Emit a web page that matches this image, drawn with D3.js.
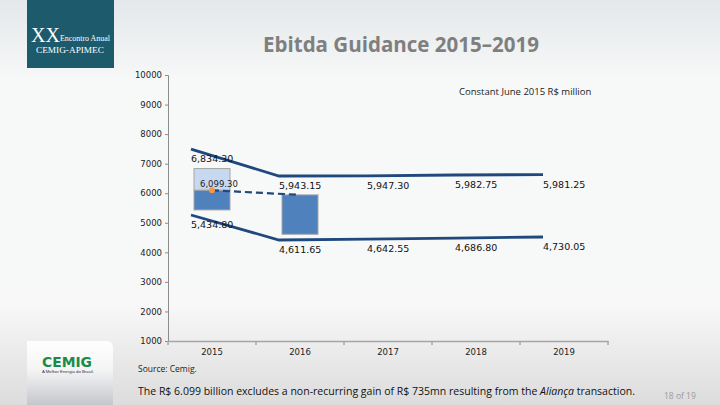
<!DOCTYPE html>
<html><head><meta charset="utf-8">
<script src="https://cdn.jsdelivr.net/npm/d3@7"></script>
<style>html,body{margin:0;padding:0;overflow:hidden;}svg{display:block;}</style>
</head><body>
<script>
// ---- data ----
const years = ["2015","2016","2017","2018","2019"];
const upperLine = [7495, 6582, 6585, 6616, 6630];          // drawn position of upper guidance line
const lowerLine = [5263, 4417, 4450, 4484, 4518];          // drawn position of lower guidance line
const upperLabels = ["6,834.30","5,943.15","5,947.30","5,982.75","5,981.25"];
const lowerLabels = ["5,434.80","4,611.65","4,642.55","4,686.80","4,730.05"];
const box2015 = {low: 5434.8, mid: 6099.3, high: 6834.3};
const box2016 = {low: 4611.65, high: 5943.15};
const midLabel = "6,099.30";
const dashedLine = [{year:"2015", v:6099.3},{year:"2016", v:5943.15}];
const yTicks = [1000,2000,3000,4000,5000,6000,7000,8000,9000,10000];

const W=720,H=405;
const svg=d3.select("body").append("svg").attr("width",W).attr("height",H);
const defs=svg.append("defs");
const bg=defs.append("linearGradient").attr("id","bg").attr("x1",0).attr("y1",0).attr("x2",0).attr("y2",1);
bg.append("stop").attr("offset","0").attr("stop-color","#e4e8ea");
bg.append("stop").attr("offset","0.2").attr("stop-color","#f7f8f8");
bg.append("stop").attr("offset","0.75").attr("stop-color","#f8f8f8");
bg.append("stop").attr("offset","1").attr("stop-color","#dcdcdc");
svg.append("rect").attr("width",W).attr("height",H).attr("fill","url(#bg)");

const lg=defs.append("linearGradient").attr("id","lg").attr("x1",0).attr("y1",0).attr("x2",0).attr("y2",1);
lg.append("stop").attr("offset","0").attr("stop-color","#ffffff");
lg.append("stop").attr("offset","0.45").attr("stop-color","#f4f4f5");
lg.append("stop").attr("offset","1").attr("stop-color","#c4c7cc");

// fit helper: shrink font so text fits a width
function fit(sel,width){
  const n=sel.node(); const w=n.getComputedTextLength();
  const fs=parseFloat(sel.attr("font-size"));
  if(w>0) sel.attr("font-size",fs*width/w);
}

// top-left logo block
svg.append("rect").attr("x",27).attr("y",0).attr("width",87).attr("height",68).attr("fill","#1d5a6c");
svg.append("text").attr("x",31).attr("y",42).attr("fill","#fff").attr("font-family","Liberation Serif").attr("font-size",20).text("XX");
fit(svg.append("text").attr("x",60).attr("y",41).attr("fill","#fff").attr("font-family","Liberation Serif").attr("font-size",7).text("Encontro Anual"),50);
fit(svg.append("text").attr("x",36).attr("y",53).attr("fill","#fff").attr("font-family","Liberation Serif").attr("font-size",10).text("CEMIG-APIMEC"),68);

// bottom-left logo panel
svg.append("path").attr("d","M27,341 H106 Q113,341 113,348 V405 H27 Z").attr("fill","url(#lg)");
fit(svg.append("text").attr("x",42).attr("y",367).attr("fill","#1a8c47")
  .attr("font-family","DejaVu Sans").attr("font-weight","bold").attr("font-size",13).text("CEMIG"),50);
fit(svg.append("text").attr("x",42).attr("y",373).attr("fill","#333")
  .attr("font-family","Liberation Sans").attr("font-size",3.6).text("A Melhor Energia do Brasil."),52);

// title
fit(svg.append("text").attr("x",263).attr("y",52).attr("fill","#7f7f7f")
  .attr("font-family","Open Sans").attr("font-weight","bold").attr("font-size",20).text("Ebitda Guidance 2015–2019"),276);

// scales
const x=d3.scaleBand().domain(years).range([168,608]);
const y=d3.scaleLinear().domain([1000,10000]).range([341,75]);
const cx=d=>x(d)+x.bandwidth()/2;

// axes
const gy=svg.append("g").attr("transform","translate(168,0)")
  .call(d3.axisLeft(y).tickValues(yTicks).tickFormat(d3.format("d")).tickSizeOuter(0).tickSize(3).tickPadding(3));
gy.select(".domain").attr("stroke","#8c8c8c");
gy.selectAll(".tick line").attr("stroke","#8c8c8c");
gy.selectAll("text").attr("font-family","DejaVu Sans").attr("font-size",8.5).attr("fill","#222");

const gx=svg.append("g").attr("transform","translate(0,341)")
  .call(d3.axisBottom(x).tickSize(0).tickPadding(8));
gx.select(".domain").attr("stroke","#a6a6a6").attr("stroke-width",1.5);
gx.selectAll("text").attr("font-family","DejaVu Sans").attr("font-size",8.5).attr("fill","#222");
gx.selectAll(".bt").data(d3.range(years.length+1)).enter().append("line")
  .attr("x1",i=>x.range()[0]+i*x.step()).attr("x2",i=>x.range()[0]+i*x.step())
  .attr("y1",0).attr("y2",4).attr("stroke","#a6a6a6").attr("stroke-width",1.5);

const bw=36;
// 2015 box
svg.append("rect").attr("x",cx("2015")-bw/2).attr("y",y(box2015.high)).attr("width",bw)
  .attr("height",y(box2015.mid)-y(box2015.high)).attr("fill","#c6d9f1").attr("stroke","#a5a5a5").attr("stroke-width",1);
svg.append("rect").attr("x",cx("2015")-bw/2).attr("y",y(box2015.mid)).attr("width",bw)
  .attr("height",y(box2015.low)-y(box2015.mid)).attr("fill","#4f81bd").attr("stroke","#a5a5a5").attr("stroke-width",1);
// 2016 box
svg.append("rect").attr("x",cx("2016")-bw/2).attr("y",y(box2016.high)).attr("width",bw)
  .attr("height",y(box2016.low)-y(box2016.high)).attr("fill","#4f81bd").attr("stroke","#a5a5a5").attr("stroke-width",1);

// guidance lines
const px=(d)=>x(d)+x.bandwidth()/2-21;
const line=d3.line().x(d=>px(d.year)).y(d=>y(d.v));
[upperLine,lowerLine].forEach(arr=>{
  const pts=years.map((yr,i)=>({year:yr,v:arr[i]}));
  svg.append("path").attr("d",line(pts)).attr("fill","none").attr("stroke","#1f497d").attr("stroke-width",2.8);
});

// dashed line
svg.append("path").attr("d",d3.line().x(d=>cx(d.year)).y(d=>y(d.v))(dashedLine))
  .attr("fill","none").attr("stroke","#1f497d").attr("stroke-width",2.2).attr("stroke-dasharray","7,4");
svg.append("circle").attr("cx",cx("2015")).attr("cy",y(box2015.mid)).attr("r",3).attr("fill","#f79646");
svg.append("text").attr("x",cx("2015")-12).attr("y",y(box2015.mid)-3).attr("font-family","DejaVu Sans")
  .attr("font-size",8.5).attr("fill","#222").text(midLabel);

// labels
const lbl=(arr,vals)=>svg.append("g").selectAll("text").data(years).enter().append("text")
  .attr("x",d=>px(d)).attr("y",(d,i)=>y(vals[i])+13).attr("font-family","DejaVu Sans")
  .attr("font-size",9.5).attr("fill","#111").text((d,i)=>arr[i]);
lbl(upperLabels,upperLine);
lbl(lowerLabels,lowerLine);

// annotations
svg.append("text").attr("x",459).attr("y",95).attr("font-family","Open Sans").attr("font-size",9.5).attr("fill","#222")
  .text("Constant June 2015 R$ million");
svg.append("text").attr("x",138).attr("y",372).attr("font-family","Open Sans").attr("font-size",8.5).attr("fill","#222")
  .text("Source: Cemig.");
const fn=svg.append("text").attr("x",138).attr("y",395).attr("font-family","Open Sans").attr("font-size",11.5).attr("fill","#111");
fn.append("tspan").text("The R$ 6.099 billion excludes a non-recurring gain of R$ 735mn resulting from the ");
fn.append("tspan").attr("font-style","italic").text("Aliança");
fn.append("tspan").text(" transaction.");
fit(fn,498);
svg.append("text").attr("x",664).attr("y",399).attr("font-family","Open Sans").attr("font-size",8.5).attr("fill","#9a9a9a")
  .text("18 of 19");
</script>
</body></html>
